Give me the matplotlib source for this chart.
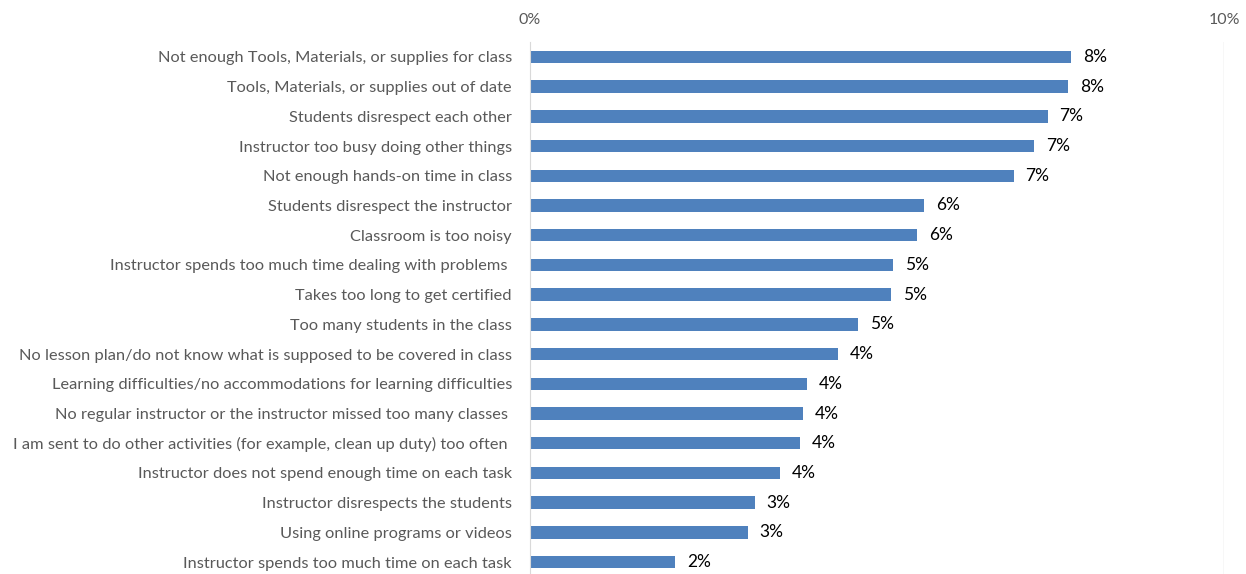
import matplotlib.pyplot as plt
from matplotlib.ticker import PercentFormatter

reasons = [
    "Not enough Tools, Materials, or supplies for class",
    "Tools, Materials, or supplies out of date",
    "Students disrespect each other",
    "Instructor too busy doing other things",
    "Not enough hands-on time in class",
    "Students disrespect the instructor",
    "Classroom is too noisy",
    "Instructor spends too much time dealing with problems ",
    "Takes too long to get certified",
    "Too many students in the class",
    "No lesson plan/do not know what is supposed to be covered in class",
    "Learning difficulties/no accommodations for learning difficulties",
    "No regular instructor or the instructor missed too many classes ",
    "I am sent to do other activities (for example, clean up duty) too often ",
    "Instructor does not spend enough time on each task",
    "Instructor disrespects the students",
    "Using online programs or videos",
    "Instructor spends too much time on each task",
]
shares = [7.80, 7.75, 7.46, 7.26, 6.97, 5.68, 5.58, 5.23, 5.20, 4.73,
          4.44, 3.99, 3.93, 3.89, 3.60, 3.24, 3.14, 2.09]

plt.rcParams["font.family"] = ["Lato", "DejaVu Sans"]

fig = plt.figure(figsize=(12.46, 5.74), dpi=100)
ax = fig.add_axes([530 / 1246, -3 / 574, (1224 - 530) / 1246, (577 - 42) / 574])

pos = list(range(len(reasons)))
ax.barh(pos, shares, height=0.42, color="#4f81bd")
for y, v in zip(pos, shares):
    ax.text(v + 0.17, y, f"{v:.0f}%", va="center", ha="left",
            fontsize=12.5, color="black")

ax.set_xlim(0, 10)
ax.set_ylim(len(reasons) - 0.5, -0.5)
ax.set_yticks(pos)
ax.set_yticklabels(reasons, fontsize=11.8, color="#595959")
ax.set_xticks([0, 10])
ax.xaxis.set_major_formatter(PercentFormatter(decimals=0))
ax.xaxis.tick_top()
ax.tick_params(axis="x", length=0, pad=11, labelsize=11.5, labelcolor="#595959")
ax.tick_params(axis="y", length=0, pad=13)

for s in ["top", "right", "bottom"]:
    ax.spines[s].set_visible(False)
ax.spines["left"].set_color("#d9d9d9")
ax.axvline(10, color="#d9d9d9", linewidth=1)

fig.savefig("out.png", dpi=100)
